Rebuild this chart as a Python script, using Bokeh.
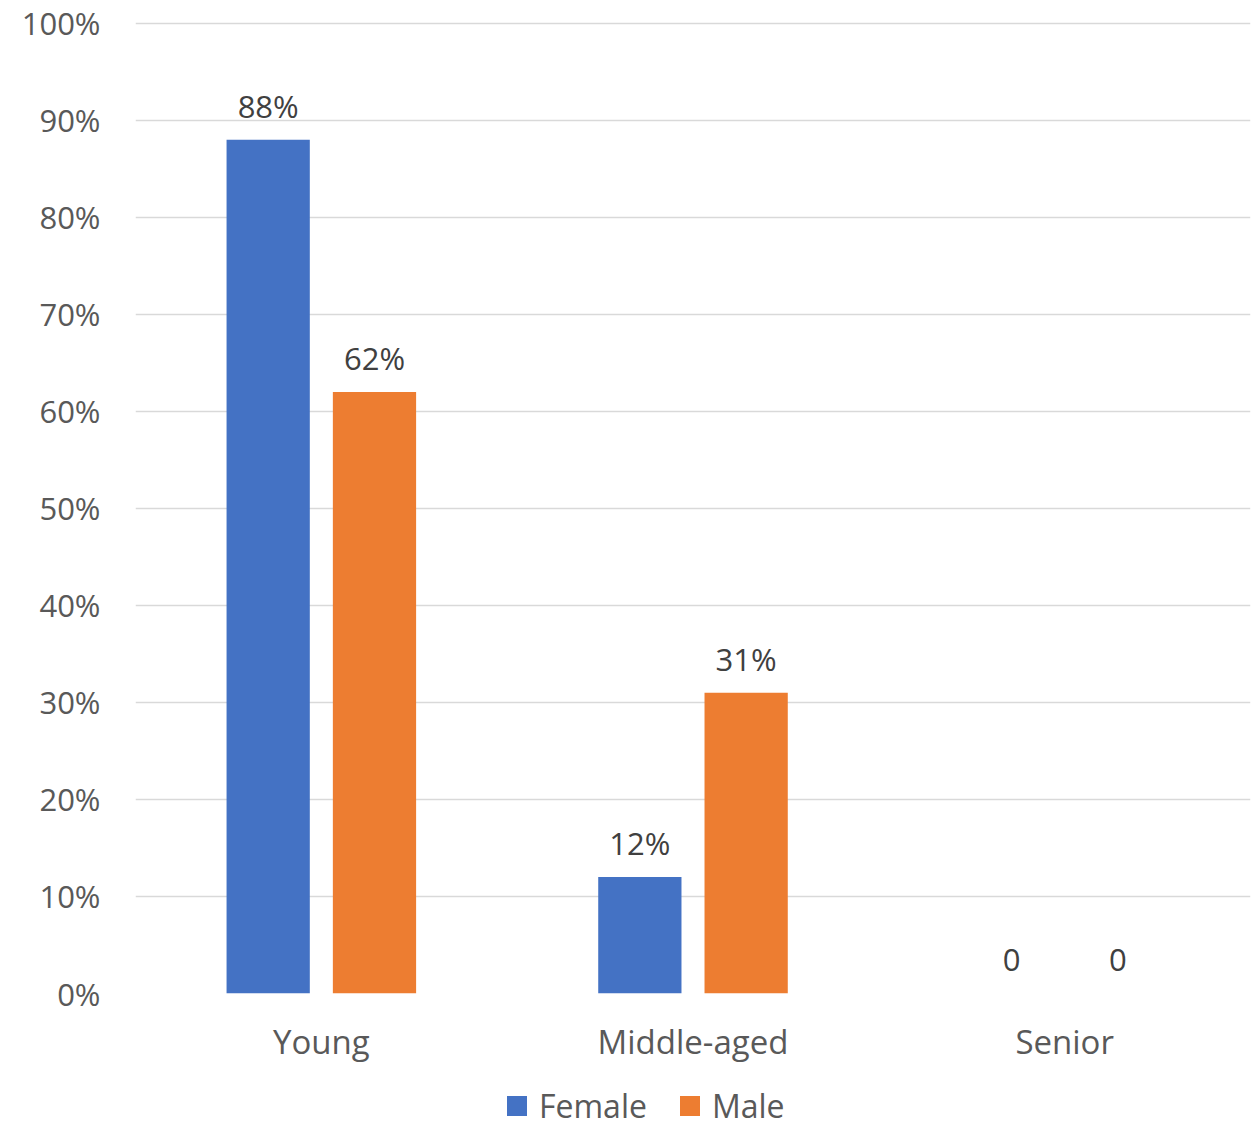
from bokeh.plotting import figure
from bokeh.layouts import column
from bokeh.models import (ColumnDataSource, FactorRange, NumeralTickFormatter,
                          Legend, LegendItem, FixedTicker)
from bokeh.transform import dodge
from bokeh.core.properties import value
from bokeh.embed import file_html
from bokeh.resources import INLINE

# Share of each age group by gender
age_groups = ["Young", "Middle-aged", "Senior"]
series_names = ["Female", "Male"]
female = [0.88, 0.12, 0.0]
male = [0.62, 0.31, 0.0]
y_ticks = [0.0, 0.1, 0.2, 0.3, 0.4, 0.5, 0.6, 0.7, 0.8, 0.9, 1.0]

FONT = "Open Sans"
COLORS = ["#4472C4", "#ED7D31"]


def pct_label(v):
    return f"{round(v * 100)}%" if v else "0"


source = ColumnDataSource(dict(
    group=age_groups,
    female=female,
    male=male,
    female_label=[pct_label(v) for v in female],
    male_label=[pct_label(v) for v in male],
))

p = figure(
    width=1258, height=1080,
    x_range=FactorRange(*age_groups, range_padding=0),
    y_range=(0, 1.002),
    output_backend="svg", toolbar_location=None,
    min_border_left=135, min_border_right=8,
    min_border_top=21, min_border_bottom=87,
)
p.outline_line_color = None
p.background_fill_color = "white"
p.border_fill_color = "white"

OFFSET = 0.143
BAR_W = 0.224

for col, off, color in (("female", -OFFSET, COLORS[0]), ("male", OFFSET, COLORS[1])):
    x = dodge("group", off, range=p.x_range)
    p.vbar(x=x, top=col, width=BAR_W, source=source,
           fill_color=color, line_color=None)
    p.text(x=x, y=col, text=col + "_label", source=source,
           text_align="center", text_baseline="alphabetic", y_offset=-34,
           text_font=value(FONT), text_font_size="31px", text_color="#404040")

# Axes
p.yaxis.ticker = FixedTicker(ticks=y_ticks)
p.yaxis.formatter = NumeralTickFormatter(format="0%")
p.yaxis.axis_line_color = None
p.yaxis.major_tick_line_color = None
p.yaxis.minor_tick_line_color = None
p.yaxis.major_label_standoff = 29
p.yaxis.major_label_text_font = FONT
p.yaxis.major_label_text_font_size = "31px"
p.yaxis.major_label_text_color = "#595959"

p.xaxis.axis_line_color = None
p.xaxis.major_tick_line_color = None
p.xaxis.minor_tick_line_color = None
p.xaxis.major_label_standoff = 19
p.xaxis.major_label_text_font = FONT
p.xaxis.major_label_text_font_size = "33px"
p.xaxis.major_label_text_color = "#595959"

p.xgrid.grid_line_color = None
p.ygrid.grid_line_color = "#D9D9D9"
p.ygrid.grid_line_width = 1.5

# Legend strip underneath the chart
leg_fig = figure(
    width=1258, height=46, output_backend="svg", toolbar_location=None,
    x_range=(0, 1), y_range=(0, 1),
    x_axis_location=None, y_axis_location=None,
    min_border_left=0, min_border_right=0,
    min_border_top=0, min_border_bottom=0,
)
leg_fig.grid.visible = False
leg_fig.outline_line_color = None

items = []
for name, color in zip(series_names, COLORS):
    # legend swatch renderer: a zero-height bar kept outside the visible range
    r = leg_fig.vbar(x=[-5], top=[0], width=0.01, fill_color=color, line_color=None)
    items.append(LegendItem(label=name, renderers=[r]))

legend = Legend(
    items=items,
    orientation="horizontal",
    location=(369, -1),
    glyph_width=25, glyph_height=25,
    label_standoff=10, spacing=30, padding=0, margin=0,
    label_text_font=FONT, label_text_font_size="32px",
    label_text_color="#595959", label_text_baseline="middle",
    border_line_color=None, background_fill_alpha=0,
)
leg_fig.add_layout(legend, "center")

layout = column(p, leg_fig, spacing=0)
open("out.html", "w").write(file_html(layout, INLINE))
